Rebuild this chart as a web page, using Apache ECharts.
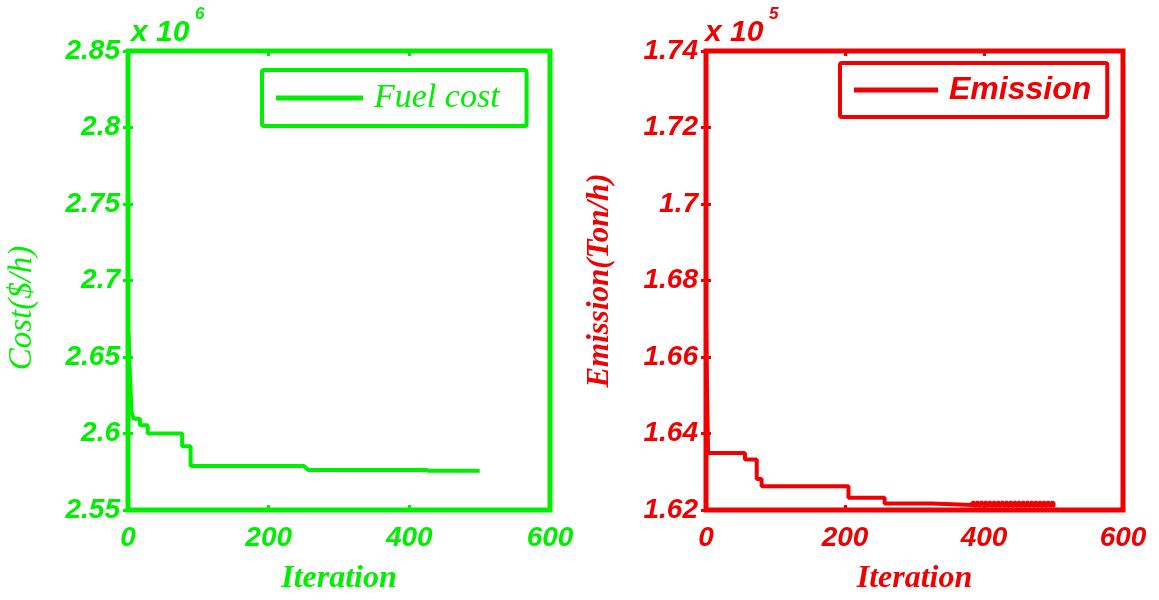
<!DOCTYPE html>
<html>
<head>
<meta charset="utf-8">
<script src="https://cdn.jsdelivr.net/npm/echarts@6/dist/echarts.min.js"></script>
<style>
html,body{margin:0;padding:0;background:#fff;}
#chart{width:1159px;height:600px;}
</style>
</head>
<body>
<div id="chart"></div>
<script>
// ---- data ----
const xTicks = [0, 200, 400, 600];
const costTicks = [2.55, 2.6, 2.65, 2.7, 2.75, 2.8, 2.85];      // x 10^6
const emissionTicks = [1.62, 1.64, 1.66, 1.68, 1.7, 1.72, 1.74]; // x 10^5

const fuelIter = [0, 1, 3, 5, 8, 17, 17, 28, 28, 77, 77, 89, 89, 250, 256, 424, 427, 500];
const fuelCost = [2.668, 2.662, 2.635, 2.614, 2.6097, 2.6097, 2.6054, 2.6054, 2.6000, 2.6000, 2.5916, 2.5916, 2.5788, 2.5788, 2.5762, 2.5762, 2.5757, 2.5757];

// emission: early steps, then the fast oscillation seen from ~383 to ~502
const emIter = [0, 3, 56, 56, 73, 73, 80, 80, 205, 205, 257, 257, 325, 325, 383,
  383, 386, 386, 389, 389, 392, 392, 395, 395, 398, 398, 401, 401, 404, 404, 407, 407, 410, 410, 413,
  413, 416, 416, 419, 419, 422, 422, 425, 425, 428, 428, 431, 431, 434, 434, 437, 437, 440, 440, 443,
  443, 446, 446, 449, 449, 452, 452, 455, 455, 458, 458, 461, 461, 464, 464, 467, 467, 470, 470, 473,
  473, 476, 476, 479, 479, 482, 482, 485, 485, 488, 488, 491, 491, 494, 494, 497, 497, 500, 500, 502];
const emValue = [1.668, 1.6349, 1.6349, 1.6332, 1.6332, 1.6281, 1.6281, 1.6262, 1.6262, 1.6232, 1.6232, 1.6217, 1.6217, 1.6213, 1.6213,
  1.6219, 1.6219, 1.6211, 1.6211, 1.6219, 1.6219, 1.6211, 1.6211, 1.6219, 1.6219, 1.6211, 1.6211, 1.6219, 1.6219, 1.6211, 1.6211, 1.6219, 1.6219, 1.6211, 1.6211,
  1.6219, 1.6219, 1.6211, 1.6211, 1.6219, 1.6219, 1.6211, 1.6211, 1.6219, 1.6219, 1.6211, 1.6211, 1.6219, 1.6219, 1.6211, 1.6211, 1.6219, 1.6219, 1.6211, 1.6211,
  1.6219, 1.6219, 1.6211, 1.6211, 1.6219, 1.6219, 1.6211, 1.6211, 1.6219, 1.6219, 1.6211, 1.6211, 1.6219, 1.6219, 1.6211, 1.6211, 1.6219, 1.6219, 1.6211, 1.6211,
  1.6219, 1.6219, 1.6211, 1.6211, 1.6219, 1.6219, 1.6211, 1.6211, 1.6219, 1.6219, 1.6211, 1.6211, 1.6219, 1.6219, 1.6211, 1.6211, 1.6219, 1.6219, 1.6211, 1.6211];

const seriesNames = ['Fuel cost', 'Emission'];
const axisNames = { x: 'Iteration', cost: 'Cost($/h)', emission: 'Emission(Ton/h)' };

// ---- styling ----
const GREEN = '#00ee00';
const RED = '#f00000';
const tickFont = { fontFamily: 'Liberation Sans, Arial, sans-serif', fontWeight: 'bold', fontStyle: 'italic', fontSize: 28 };

function pairs(xs, ys) { return xs.map((x, i) => [x, ys[i]]); }

function axesFor(gridIndex, color, ticks, yName, nameBold, showYName) {
  const ymin = ticks[0], ymax = ticks[ticks.length - 1];
  const yint = +(ticks[1] - ticks[0]).toFixed(6);
  const xint = xTicks[1] - xTicks[0];
  const x = [
    { type: 'value', gridIndex, position: 'bottom', min: xTicks[0], max: xTicks[xTicks.length - 1], interval: xint,
      axisLine: { show: false }, splitLine: { show: false },
      axisTick: { inside: true, length: 5, lineStyle: { color, width: 3 } },
      axisLabel: Object.assign({ color, margin: 14, formatter: v => String(v) }, tickFont),
      name: axisNames.x, nameLocation: 'middle', nameGap: 53,
      nameTextStyle: { color, fontFamily: 'Liberation Serif, Times New Roman, serif', fontWeight: 'bold', fontStyle: 'italic', fontSize: 32 } },
    { type: 'value', gridIndex, position: 'top', min: xTicks[0], max: xTicks[xTicks.length - 1], interval: xint,
      axisLine: { show: false }, splitLine: { show: false }, axisLabel: { show: false },
      axisTick: { inside: true, length: 5, lineStyle: { color, width: 3 } } }
  ];
  const y = [
    { type: 'value', gridIndex, position: 'left', min: ymin, max: ymax, interval: yint,
      axisLine: { show: false }, splitLine: { show: false },
      axisTick: { inside: true, length: 5, lineStyle: { color, width: 3 } },
      axisLabel: Object.assign({ color, margin: 8, formatter: v => String(+v.toFixed(4)) }, tickFont),
      name: showYName ? yName : '', nameLocation: 'middle', nameGap: 91,
      nameTextStyle: { color, fontFamily: 'Liberation Serif, Times New Roman, serif', fontWeight: nameBold ? 'bold' : 'normal', fontStyle: 'italic', fontSize: 31 } },
    { type: 'value', gridIndex, position: 'right', min: ymin, max: ymax, interval: yint,
      axisLine: { show: false }, splitLine: { show: false }, axisLabel: { show: false },
      axisTick: { inside: true, length: 5, lineStyle: { color, width: 3 } } }
  ];
  return { x, y };
}

const a0 = axesFor(0, GREEN, costTicks, axisNames.cost, false, false);
const a1 = axesFor(1, RED, emissionTicks, axisNames.emission, true, true);

const chart = echarts.init(document.getElementById('chart'), null, { renderer: 'canvas' });
chart.setOption({
  backgroundColor: '#ffffff',
  animation: false,
  grid: [
    { left: 128, right: 609, top: 51, bottom: 81, show: true, borderColor: GREEN, borderWidth: 5, backgroundColor: 'transparent' },
    { left: 706, right: 36, top: 51, bottom: 81, show: true, borderColor: RED, borderWidth: 5, backgroundColor: 'transparent' }
  ],
  xAxis: [...a0.x, ...a1.x],
  yAxis: [...a0.y, ...a1.y],
  legend: [
    { data: [seriesNames[0]], left: 262, top: 70, icon: 'rect', itemWidth: 87, itemHeight: 5, itemGap: 10,
      borderColor: GREEN, borderWidth: 4, borderRadius: 2, padding: [11, 27, 11, 14],
      textStyle: { color: GREEN, fontFamily: 'Liberation Serif, Times New Roman, serif', fontStyle: 'italic', fontSize: 34, padding: [0, 0, 0, 6] } },
    { data: [seriesNames[1]], left: 840, top: 63, icon: 'rect', itemWidth: 84, itemHeight: 5, itemGap: 10,
      borderColor: RED, borderWidth: 4, borderRadius: 2, padding: [11, 16, 11, 14],
      textStyle: { color: RED, fontFamily: 'Liberation Sans, Arial, sans-serif', fontWeight: 'bold', fontStyle: 'italic', fontSize: 32, padding: [0, 0, 0, 6] } }
  ],
  graphic: [
    { type: 'text', left: 131, top: 18, style: { text: 'x 10', fill: GREEN, font: 'italic bold 30px "Liberation Sans", Arial, sans-serif' } },
    { type: 'text', left: 195, top: 6, style: { text: '6', fill: GREEN, font: 'italic bold 17px "Liberation Sans", Arial, sans-serif' } },
    { type: 'text', left: 705, top: 18, style: { text: 'x 10', fill: RED, font: 'italic bold 30px "Liberation Sans", Arial, sans-serif' } },
    { type: 'text', left: 769, top: 6, style: { text: '5', fill: RED, font: 'italic bold 17px "Liberation Sans", Arial, sans-serif' } },
    { type: 'text', x: 22, y: 308, rotation: Math.PI / 2,
      style: { text: axisNames.cost, fill: GREEN, font: 'italic 33px "Liberation Serif", "Times New Roman", serif', align: 'center', verticalAlign: 'middle' } }
  ],
  series: [
    { name: seriesNames[0], type: 'line', xAxisIndex: 0, yAxisIndex: 0, data: pairs(fuelIter, fuelCost),
      showSymbol: false, symbol: 'none', lineStyle: { color: GREEN, width: 4 }, itemStyle: { color: GREEN }, clip: true },
    { name: seriesNames[1], type: 'line', xAxisIndex: 2, yAxisIndex: 2, data: pairs(emIter, emValue),
      showSymbol: false, symbol: 'none', lineStyle: { color: RED, width: 4 }, itemStyle: { color: RED }, clip: true }
  ]
});
</script>
</body>
</html>
